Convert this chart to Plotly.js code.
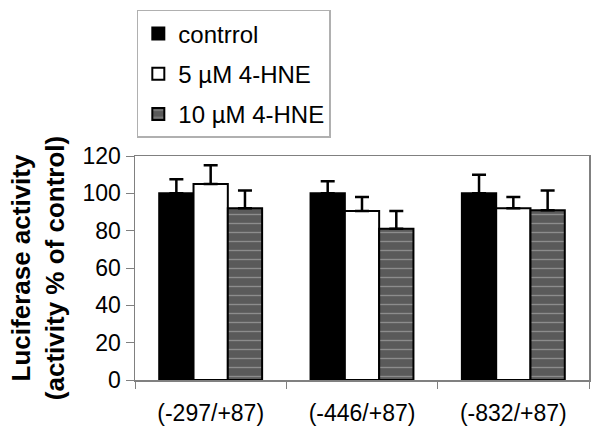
<!DOCTYPE html>
<html>
<head>
<meta charset="utf-8">
<script src="https://cdn.plot.ly/plotly-3.0.1.min.js"></script>
<style>
  html, body { margin: 0; padding: 0; background: #fff; }
  #chart { width: 601px; height: 442px; }
</style>
</head>
<body>
<div id="chart"></div>
<script>
// promoter constructs on the x axis
const constructs = ['(-297/+87)', '(-446/+87)', '(-832/+87)'];

// luciferase activity, % of control
const controlVals = [100, 100, 100];
const controlErr = [7.5, 6.5, 10];
const hne5Vals = [105, 90.5, 92];
const hne5Err = [10, 7.5, 6];
const hne10Vals = [92, 81, 91];
const hne10Err = [9.5, 9.5, 10.5];

const seriesNames = ['contrrol', '5 µM 4-HNE', '10 µM 4-HNE'];

function errBar(arr) {
    return {
        type: 'data',
        array: arr,
        symmetric: false,
        arrayminus: arr.map(() => 0),
        color: '#000',
        thickness: 2.5,
        width: 7
    };
}

const traceControl = {
    x: constructs,
    y: controlVals,
    name: seriesNames[0],
    type: 'bar',
    legendgroup: 'a',
    marker: { color: '#000000', line: { color: '#000', width: 2 } },
    error_y: errBar(controlErr)
};

const trace5 = {
    x: constructs,
    y: hne5Vals,
    name: seriesNames[1],
    type: 'bar',
    legendgroup: 'b',
    marker: { color: '#ffffff', line: { color: '#000', width: 2 } },
    error_y: errBar(hne5Err)
};

const trace10 = {
    x: constructs,
    y: hne10Vals,
    name: seriesNames[2],
    type: 'bar',
    legendgroup: 'c',
    marker: {
        color: '#5a5a5a',
        line: { color: '#000', width: 2 },
        pattern: { shape: '-', bgcolor: '#5a5a5a', fgcolor: '#8c8c8c', size: 9, solidity: 0.15 }
    },
    error_y: errBar(hne10Err)
};

const layout = {
    width: 601,
    height: 442,
    margin: { l: 135, r: 12, t: 155, b: 62 },
    paper_bgcolor: '#fff',
    plot_bgcolor: '#fff',
    font: { family: 'Liberation Sans, Arial, sans-serif', size: 22, color: '#000' },
    barmode: 'group',
    bargap: 0.32,
    bargroupgap: 0,
    showlegend: true,
    legend: {
        x: 0.004,
        y: 1.645,
        xanchor: 'left',
        yanchor: 'top',
        traceorder: 'grouped',
        tracegroupgap: 6,
        bordercolor: '#b0b0b0',
        borderwidth: 1.5,
        bgcolor: '#fff',
        font: { size: 24 },
        itemwidth: 30
    },
    xaxis: {
        type: 'category',
        showline: true,
        linecolor: '#808080',
        linewidth: 1.5,
        mirror: true,
        ticks: 'outside',
        tickson: 'boundaries',
        ticklen: 7,
        tickcolor: '#808080',
        tickfont: { size: 23 },
        ticklabelstandoff: 12,
        showgrid: false,
        zeroline: false
    },
    yaxis: {
        range: [0, 120],
        dtick: 20,
        showline: true,
        linecolor: '#808080',
        linewidth: 1.5,
        mirror: true,
        ticks: 'outside',
        ticklen: 8,
        tickcolor: '#808080',
        tickfont: { size: 23 },
        showgrid: false,
        zeroline: false,
        title: {
            text: '<b>Luciferase activity</b><br><b>(activity % of control)</b>',
            font: { size: 26 },
            standoff: 10
        }
    }
};

Plotly.newPlot('chart', [traceControl, trace5, trace10], layout, { displayModeBar: false, staticPlot: true });
</script>
</body>
</html>
